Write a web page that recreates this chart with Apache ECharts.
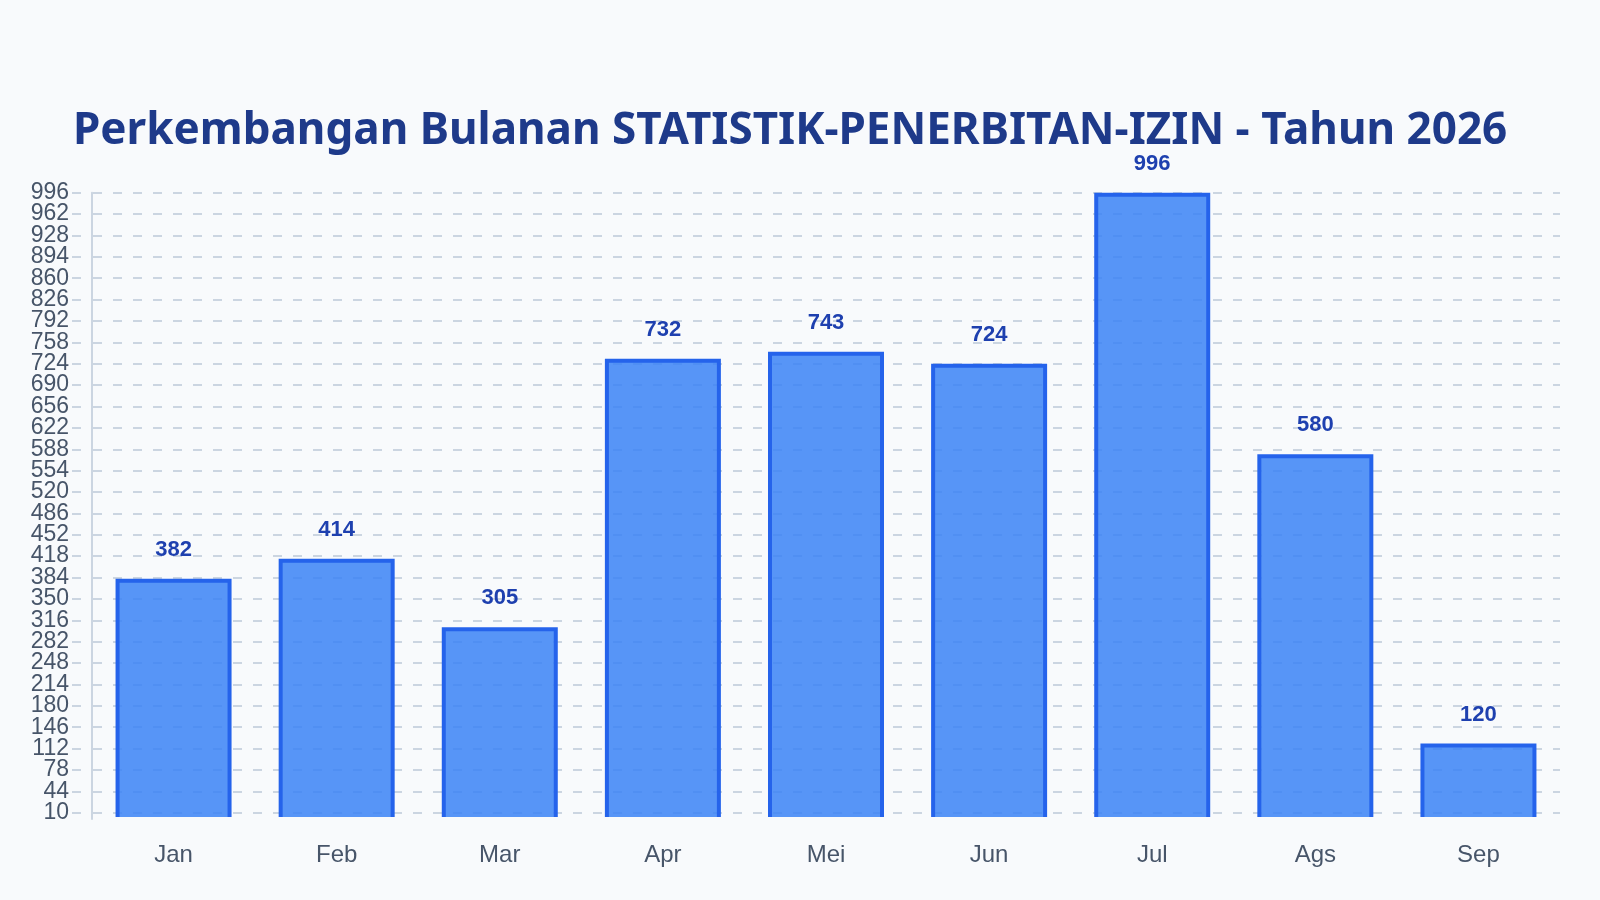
<!DOCTYPE html>
<html>
<head>
<meta charset="utf-8">
<script src="https://cdn.jsdelivr.net/npm/echarts@6/dist/echarts.min.js"></script>
<style>
  html, body { margin: 0; padding: 0; background: #f8fafc; }
  #box { width: 1600px; height: 900px; }
</style>
</head>
<body>
<div id="box"></div>
<script>
var months = ['Jan', 'Feb', 'Mar', 'Apr', 'Mei', 'Jun', 'Jul', 'Ags', 'Sep'];
var izin = [382, 414, 305, 732, 743, 724, 996, 580, 120];
var yTicks = [10, 44, 78, 112, 146, 180, 214, 248, 282, 316, 350, 384, 418, 452, 486,
	520, 554, 588, 622, 656, 690, 724, 758, 792, 826, 860, 894, 928, 962, 996];

// labels sit closer than their font height, so they are shared by two axes
// (otherwise echarts drops the ones next to min / max)
var yTicksEven = yTicks.filter(function (v, i) { return i % 2 === 0; });
var yTicksOdd = yTicks.filter(function (v, i) { return i % 2 === 1; });

var chart = echarts.init(document.getElementById('box'));

var tickFont = {
	fontFamily: 'Liberation Sans',
	fontSize: 23,
	color: '#475569'
};

var option = {
	backgroundColor: '#f8fafc',
	title: {
		text: 'Perkembangan Bulanan STATISTIK-PENERBITAN-IZIN - Tahun 2026',
		left: 68,
		top: 104,
		textStyle: {
			fontFamily: 'Noto Sans',
			fontSize: 44,
			fontWeight: 'bold',
			color: '#1e3a8a'
		}
	},
	grid: [
		{ left: 92, right: 40, top: 192.7, bottom: 81 },
		// narrow strip left of the axis, for the short tick dashes
		{ left: 72, width: 20, top: 192.7, bottom: 81 }
	],
	xAxis: [
		{
			type: 'category',
			data: months,
			axisLine: { show: false },
			axisTick: { show: false },
			axisLabel: {
				margin: 24,
				fontFamily: 'Liberation Sans',
				fontSize: 24,
				color: '#475569'
			}
		},
		{ gridIndex: 1, type: 'value', show: false }
	],
	yAxis: [
		{
			type: 'value',
			min: 0,
			max: 996,
			axisLine: { show: true, lineStyle: { color: '#cbd5e1', width: 2 } },
			axisTick: { show: false, customValues: yTicks },
			axisLabel: Object.assign({
				customValues: yTicksEven,
				margin: 23
			}, tickFont),
			splitLine: {
				show: true,
				lineStyle: { color: '#cbd5e1', width: 2, type: [9, 11], dashOffset: 19 }
			}
		},
		{
			gridIndex: 1,
			type: 'value',
			min: 0,
			max: 996,
			axisLine: { show: false },
			axisTick: { show: false, customValues: yTicks },
			axisLabel: Object.assign({
				customValues: yTicksOdd,
				margin: 3
			}, tickFont),
			splitLine: {
				show: true,
				lineStyle: { color: '#cbd5e1', width: 2, type: [9, 11] }
			}
		}
	],
	series: [
		{
			name: 'Izin',
			type: 'bar',
			data: izin,
			barWidth: 116,
			itemStyle: {
				color: 'rgba(59, 130, 246, 0.85)',
				borderColor: '#2563eb',
				borderWidth: 4,
				// skip the bottom edge of each bar
				borderType: [0, 112, 5000]
			},
			label: {
				show: true,
				position: 'top',
				distance: 18,
				fontFamily: 'Liberation Sans',
				fontSize: 22,
				fontWeight: 'bold',
				color: '#1e40af'
			}
		}
	]
};

chart.setOption(option);
</script>
</body>
</html>
